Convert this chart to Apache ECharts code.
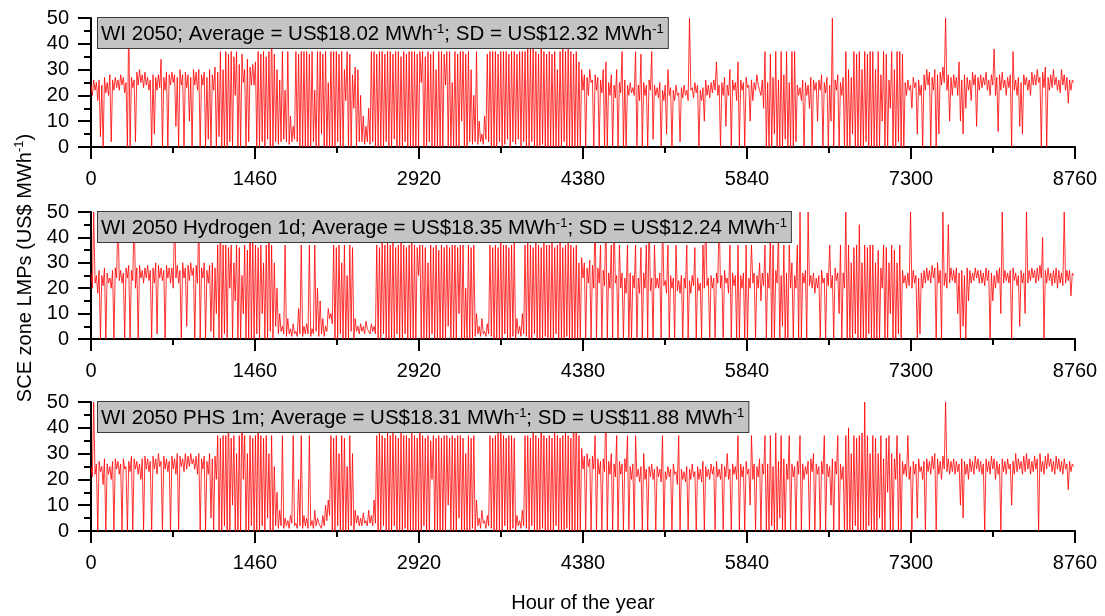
<!DOCTYPE html>
<html>

<head>
    <meta charset="utf8">
    <script src="https://cdn.jsdelivr.net/npm/echarts@6/dist/echarts.min.js"></script>
    <style>
        body { margin: 0; background: #fff; }
        #echarts-main { width: 1105px; height: 616px; }
    </style>
</head>

<body>
    <div id="echarts-main"></div>
    <script type="text/javascript">
        // hourly LMPs, two points per day (every 12 h)
        var wi2050 = [
            24,20, 26,22, 25,18, 26,4, 24,0, 27,21, 25,20, 28,2, 26,22, 27,23,
            26,22, 28,24, 27,21, 25,0, 50,0, 27,23, 26,2, 29,24, 30,25, 28,23,
            29,24, 27,22, 26,0, 28,5, 27,22, 28,23, 34,0, 27,22, 29,0, 28,24,
            29,25, 28,8, 27,0, 30,24, 28,0, 29,23, 28,10, 27,0, 30,24, 29,22,
            30,0, 28,24, 29,0, 27,3, 30,0, 28,22, 31,0, 29,4, 37,0, 30,0,
            37,0, 36,2, 37,0, 35,20, 37,0, 32,0, 36,25, 30,0, 34,2, 31,24,
            32,24, 33,0, 37,0, 36,2, 37,0, 35,3, 37,0, 50,0, 36,2, 30,1,
            26,2, 37,3, 22,2, 37,1, 12,2, 8,3, 37,2, 36,0, 37,0, 37,0,
            37,0, 36,0, 37,2, 22,0, 37,0, 37,5, 36,0, 37,0, 25,0, 37,0,
            37,0, 37,2, 36,0, 37,0, 30,18, 37,0, 36,0, 28,15, 31,0, 30,2,
            20,2, 12,1, 8,2, 15,1, 37,2, 37,0, 36,0, 37,0, 37,0, 36,2,
            37,0, 37,0, 36,3, 37,0, 37,0, 35,0, 37,2, 36,0, 37,0, 37,0,
            37,0, 36,0, 37,25, 37,0, 35,0, 37,2, 36,0, 37,0, 30,0, 37,0,
            37,0, 36,24, 37,0, 37,0, 25,0, 37,0, 36,0, 37,10, 37,0, 36,0,
            37,2, 30,1, 20,2, 37,1, 10,2, 5,1, 12,3, 36,2, 37,0, 37,0,
            37,0, 36,2, 37,0, 37,1, 37,3, 36,0, 37,2, 37,1, 36,3, 37,0,
            37,2, 37,0, 39,0, 38,2, 40,0, 37,0, 36,0, 39,1, 37,0, 36,0,
            37,0, 36,0, 37,0, 30,0, 37,0, 38,2, 37,0, 40,0, 37,0, 36,0,
            37,0, 33,0, 30,22, 28,0, 27,20, 30,25, 26,0, 28,22, 27,0, 26,21,
            30,0, 33,0, 25,20, 28,0, 24,19, 30,0, 25,21, 37,0, 26,0, 24,20,
            25,21, 23,20, 37,0, 24,18, 36,0, 25,20, 24,0, 26,22, 37,3, 24,20,
            23,19, 25,0, 22,18, 24,5, 30,20, 23,0, 22,18, 24,20, 21,2, 23,19,
            24,20, 22,18, 50,22, 23,19, 25,21, 24,0, 22,18, 23,10, 26,20, 24,19,
            25,21, 26,22, 33,20, 24,0, 25,20, 27,8, 24,20, 30,0, 26,22, 25,18,
            33,0, 26,22, 25,0, 27,23, 24,10, 26,18, 25,22, 28,24, 24,20, 26,15,
            37,0, 25,0, 36,0, 27,5, 37,0, 26,0, 37,0, 28,3, 37,0, 25,0,
            37,0, 37,2, 24,20, 23,18, 26,0, 25,20, 24,15, 27,0, 26,22, 25,10,
            26,22, 28,0, 25,21, 27,0, 24,10, 50,0, 26,22, 28,0, 25,20, 27,0,
            37,0, 30,0, 27,5, 37,0, 36,0, 37,0, 30,0, 37,2, 36,0, 37,0,
            37,0, 30,0, 37,0, 28,10, 37,0, 36,0, 26,15, 37,0, 30,0, 37,2,
            37,0, 36,0, 25,20, 26,22, 24,15, 27,23, 25,5, 26,20, 24,0, 28,22,
            30,24, 29,0, 27,22, 30,0, 28,5, 29,24, 31,25, 50,22, 28,10, 27,20,
            28,23, 27,20, 33,10, 26,5, 28,15, 27,22, 26,18, 29,24, 28,8, 27,22,
            28,23, 27,24, 29,22, 26,20, 28,24, 38,20, 27,6, 28,22, 29,23, 26,20,
            27,23, 28,0, 37,22, 26,20, 27,8, 25,5, 28,24, 27,22, 26,20, 29,24,
            28,24, 30,25, 27,0, 29,23, 31,0, 27,22, 28,23, 30,24, 27,22, 26,21,
            30,24, 28,22, 27,17, 26,22, 26,25
        ];

        var wiHydrogen = [
            26,20, 50,22, 25,18, 27,0, 25,21, 28,0, 26,22, 24,20, 27,0, 28,24,
            50,23, 27,22, 26,0, 28,24, 29,0, 27,23, 50,20, 28,0, 29,24, 27,22,
            28,24, 29,23, 27,0, 28,22, 30,2, 29,24, 28,23, 27,0, 29,24, 28,22,
            28,20, 50,24, 29,22, 27,0, 30,24, 28,5, 29,23, 30,25, 28,0, 29,22,
            50,0, 28,24, 30,0, 27,22, 29,3, 30,0, 28,10, 37,0, 50,0, 37,2,
            37,0, 36,20, 37,0, 30,15, 37,0, 36,0, 25,10, 37,0, 35,0, 50,0,
            40,0, 37,2, 36,0, 37,10, 30,0, 37,0, 50,3, 37,0, 30,5, 20,2,
            10,3, 5,2, 37,1, 8,2, 4,1, 6,2, 3,1, 12,2, 37,1, 5,2,
            6,2, 37,1, 4,2, 37,3, 20,1, 15,2, 8,1, 5,3, 12,8, 10,6,
            37,0, 36,0, 37,2, 30,0, 37,0, 25,0, 37,3, 36,0, 8,3, 5,2,
            6,3, 5,2, 7,4, 4,2, 6,3, 5,2, 37,0, 36,0, 38,2, 37,0,
            38,0, 37,0, 40,0, 36,2, 37,0, 38,0, 37,2, 36,0, 37,0, 38,0,
            37,0, 36,25, 37,0, 37,0, 36,0, 30,0, 37,2, 36,0, 37,0, 35,0,
            37,0, 36,0, 37,5, 36,0, 37,0, 37,0, 36,10, 37,0, 37,0, 20,0,
            37,0, 36,0, 37,1, 10,2, 5,1, 8,2, 3,1, 6,2, 37,1, 36,0,
            37,0, 36,0, 38,0, 37,2, 37,0, 36,0, 37,1, 38,0, 8,2, 5,1,
            10,2, 37,1, 38,0, 37,0, 36,2, 40,0, 37,0, 36,0, 38,1, 37,0,
            37,0, 38,0, 36,2, 37,0, 38,0, 36,0, 37,1, 40,0, 37,0, 36,0,
            37,0, 30,0, 32,24, 30,0, 28,22, 31,0, 29,20, 50,0, 28,22, 37,0,
            27,21, 50,0, 26,20, 37,0, 50,22, 25,0, 37,20, 26,0, 24,18, 37,0,
            26,0, 25,20, 37,0, 24,18, 36,0, 26,20, 37,0, 50,19, 24,0, 37,20,
            24,20, 26,0, 50,21, 23,18, 37,0, 25,20, 24,0, 37,19, 23,18, 25,0,
            24,20, 37,0, 23,18, 25,21, 36,0, 24,19, 22,0, 37,20, 50,21, 24,0,
            25,20, 24,0, 26,22, 50,20, 25,0, 27,22, 24,18, 37,0, 26,21, 25,0,
            37,0, 25,20, 26,0, 37,0, 24,20, 37,22, 26,0, 25,20, 30,15, 26,21,
            37,0, 26,20, 40,0, 37,0, 27,22, 42,0, 25,5, 37,0, 26,0, 37,20,
            30,0, 25,20, 37,0, 50,0, 26,22, 27,0, 50,21, 25,20, 26,18, 24,20,
            25,0, 27,22, 24,0, 26,21, 37,20, 25,0, 28,23, 26,10, 37,0, 26,20,
            50,0, 37,0, 30,0, 36,2, 37,0, 45,0, 30,0, 37,0, 36,2, 37,0,
            37,0, 30,0, 35,0, 28,20, 37,0, 36,0, 30,10, 37,0, 35,0, 30,2,
            37,0, 27,22, 25,20, 26,21, 50,20, 27,22, 25,0, 24,2, 26,20, 27,22,
            28,23, 27,22, 29,24, 28,0, 30,22, 27,0, 50,21, 26,20, 45,22, 28,23,
            27,22, 28,10, 26,0, 27,5, 25,0, 28,15, 27,22, 26,23, 28,24, 27,22,
            27,22, 26,21, 28,23, 27,0, 26,15, 25,20, 27,22, 28,10, 50,22, 27,23,
            26,22, 27,0, 28,23, 26,21, 25,5, 27,22, 26,10, 50,22, 27,23, 28,24,
            27,22, 28,23, 29,24, 40,0, 27,22, 28,23, 26,21, 27,22, 28,20, 27,22,
            26,21, 50,22, 27,23, 27,17, 26,25
        ];

        var wiPhs = [
            25,21, 50,22, 26,0, 27,23, 25,18, 28,0, 26,22, 25,20, 27,0, 28,24,
            27,22, 26,0, 28,24, 25,0, 27,23, 29,0, 28,24, 27,22, 26,20, 28,0,
            29,24, 28,23, 27,0, 29,24, 28,22, 30,25, 27,0, 29,24, 28,23, 27,0,
            29,24, 28,22, 30,0, 29,25, 28,23, 30,24, 29,25, 30,26, 28,24, 29,22,
            30,0, 28,24, 29,0, 27,22, 30,5, 28,0, 29,20, 37,0, 36,0, 37,2,
            37,0, 50,0, 36,10, 37,0, 30,0, 37,0, 50,20, 37,0, 30,0, 37,2,
            36,0, 37,0, 50,0, 37,2, 36,0, 37,5, 30,0, 37,0, 25,2, 15,1,
            8,2, 37,1, 5,2, 4,1, 6,3, 37,2, 3,1, 20,2, 37,1, 6,2,
            5,1, 37,2, 4,1, 8,2, 5,3, 3,1, 6,2, 10,4, 12,6, 37,0,
            36,0, 37,2, 30,0, 37,0, 36,0, 25,0, 37,2, 30,0, 8,3, 6,2,
            5,2, 7,3, 4,2, 8,3, 6,2, 12,3, 37,0, 38,0, 37,2, 36,0,
            38,0, 37,0, 40,2, 37,0, 36,0, 38,0, 37,1, 37,0, 36,0, 38,0,
            37,0, 36,0, 50,0, 37,2, 36,0, 37,0, 35,20, 37,0, 36,0, 37,0,
            36,0, 37,0, 37,10, 36,0, 37,0, 36,0, 37,5, 37,0, 36,0, 30,0,
            37,0, 36,1, 37,0, 12,2, 5,1, 8,3, 4,1, 6,2, 37,1, 36,0,
            37,0, 38,0, 50,0, 37,2, 36,0, 37,0, 37,1, 36,0, 6,2, 4,1,
            8,2, 37,1, 37,0, 36,2, 38,0, 37,0, 36,0, 50,1, 37,0, 36,0,
            37,0, 36,0, 38,2, 37,0, 36,0, 37,0, 38,1, 37,0, 36,0, 50,0,
            50,0, 37,0, 32,24, 29,0, 30,25, 28,0, 29,24, 37,0, 28,22, 27,0,
            28,23, 50,0, 27,22, 30,0, 26,21, 37,0, 27,22, 26,0, 28,23, 37,0,
            25,20, 26,0, 37,21, 24,19, 25,0, 30,20, 24,0, 25,21, 26,20, 24,0,
            25,21, 24,19, 37,0, 23,20, 25,21, 24,0, 26,22, 23,18, 37,0, 24,20,
            23,19, 25,0, 24,20, 26,21, 23,0, 25,20, 24,19, 27,0, 25,21, 24,20,
            26,22, 25,0, 27,21, 24,20, 26,0, 25,21, 30,20, 24,0, 26,22, 25,20,
            37,0, 26,21, 25,0, 27,22, 24,10, 37,20, 26,0, 25,21, 28,0, 26,22,
            37,0, 26,0, 37,2, 25,0, 38,0, 27,5, 37,0, 28,0, 26,20, 37,0,
            26,21, 25,0, 27,22, 37,0, 26,20, 25,22, 27,0, 28,23, 30,0, 26,22,
            25,0, 27,22, 37,0, 26,21, 25,10, 28,0, 27,22, 37,0, 26,20, 25,0,
            37,0, 40,0, 30,0, 37,2, 36,0, 37,0, 38,0, 50,0, 37,2, 30,0,
            37,0, 36,0, 30,5, 37,0, 28,0, 36,15, 37,0, 30,0, 28,20, 37,0,
            30,0, 27,22, 26,21, 37,20, 25,0, 27,22, 26,5, 28,23, 25,20, 27,0,
            28,23, 27,22, 29,24, 30,0, 28,22, 27,20, 29,24, 50,23, 28,22, 27,23,
            28,22, 27,23, 26,10, 28,5, 27,22, 26,20, 28,23, 27,22, 29,24, 28,23,
            27,22, 26,0, 28,23, 27,22, 29,24, 28,20, 27,22, 26,0, 28,23, 27,22,
            28,24, 26,10, 27,22, 30,23, 28,24, 27,22, 29,23, 30,24, 28,22, 27,23,
            29,24, 28,0, 30,23, 27,22, 29,24, 30,25, 28,23, 27,22, 29,24, 28,23,
            27,22, 28,24, 26,16, 27,23, 26,25
        ];

        var hourTicks = [0, 1460, 2920, 4380, 5840, 7300, 8760];
        var panelNames = ['WI 2050', 'WI 2050 Hydrogen 1d', 'WI 2050 PHS 1m'];
        var averages = ['18.02', '18.35', '18.31'];
        var sds = ['12.32', '12.24', '11.88'];

        var FONT = '"Liberation Sans", Arial, sans-serif';
        var tops = [18, 212, 402];
        var heights = [129, 127, 129];

        function toPoints(arr) {
            var pts = [];
            for (var i = 0; i < arr.length; i++) {
                pts.push([i * 12, arr[i]]);
            }
            return pts;
        }

        var allSeries = [wi2050, wiHydrogen, wiPhs];
        var grids = [], xAxes = [], yAxes = [], series = [], graphics = [];

        for (var k = 0; k < 3; k++) {
            grids.push({ left: 91, width: 984, top: tops[k], height: heights[k], outerBoundsMode: 'none' });
            xAxes.push({
                type: 'value', gridIndex: k, min: 0, max: 8760, interval: 1460,
                axisLine: { onZero: false, lineStyle: { color: '#000', width: 2 } },
                axisTick: { length: 12, lineStyle: { color: '#000', width: 2 } },
                minorTick: { show: true, splitNumber: 2, length: 6, lineStyle: { color: '#000', width: 2 } },
                splitLine: { show: false },
                axisLabel: {
                    color: '#000', fontSize: 20, fontFamily: FONT, margin: 22,
                    showMinLabel: true, showMaxLabel: true, hideOverlap: false,
                    customValues: hourTicks,
                    formatter: function (v) { return String(v); }
                }
            });
            yAxes.push({
                type: 'value', gridIndex: k, min: 0, max: 50, interval: 10,
                axisLine: { show: true, onZero: false, lineStyle: { color: '#000', width: 2 } },
                axisTick: { show: true, length: 13, lineStyle: { color: '#000', width: 2 } },
                minorTick: { show: true, splitNumber: 2, length: 7, lineStyle: { color: '#000', width: 2 } },
                splitLine: { show: false },
                axisLabel: { color: '#000', fontSize: 20, fontFamily: FONT, margin: 22 }
            });
            series.push({
                type: 'line', xAxisIndex: k, yAxisIndex: k,
                data: toPoints(allSeries[k]),
                showSymbol: false, symbol: 'none', silent: true,
                sampling: null,
                lineStyle: { color: '#ff0000', width: 0.8 },
                z: 2
            });
            graphics.push({
                type: 'text', left: 97, top: tops[k] - 1, z: 100,
                style: {
                    text: '{n|' + panelNames[k] + '; Average = US$' + averages[k] + ' MWh}{s|-1}{n|; SD = US$' + sds[k] + ' MWh}{s|-1}',
                    backgroundColor: '#c4c4c4',
                    borderColor: '#3a3a3a',
                    borderWidth: 1,
                    padding: [4, 4, 3, 3],
                    rich: {
                        n: { fontSize: 20.5, fontFamily: FONT, fill: '#000', color: '#000', lineHeight: 23, verticalAlign: 'bottom' },
                        s: { fontSize: 13, fontFamily: FONT, fill: '#000', color: '#000', lineHeight: 23, verticalAlign: 'top', padding: [1, 0, 0, 0] }
                    }
                }
            });
        }

        // y-axis name, rotated
        graphics.push({
            type: 'text', x: 24, y: 268, rotation: Math.PI / 2, z: 100,
            style: {
                text: '{n|SCE zone LMPs (US$ MWh}{s|-1}{n|)}',
                align: 'center', verticalAlign: 'middle',
                rich: {
                    n: { fontSize: 20, fontFamily: FONT, fill: '#000', color: '#000', lineHeight: 23, verticalAlign: 'bottom' },
                    s: { fontSize: 13, fontFamily: FONT, fill: '#000', color: '#000', lineHeight: 23, verticalAlign: 'top' }
                }
            }
        });
        graphics.push({
            type: 'text', x: 583, y: 603, z: 100,
            style: {
                text: 'Hour of the year', fontSize: 20, fontFamily: FONT, fill: '#000',
                align: 'center', verticalAlign: 'middle'
            }
        });

        var myChart = echarts.init(document.getElementById('echarts-main'), null, { renderer: 'canvas' });
        myChart.setOption({
            animation: false,
            backgroundColor: '#fff',
            grid: grids,
            xAxis: xAxes,
            yAxis: yAxes,
            series: series,
            graphic: graphics
        });
    </script>
</body>

</html>
